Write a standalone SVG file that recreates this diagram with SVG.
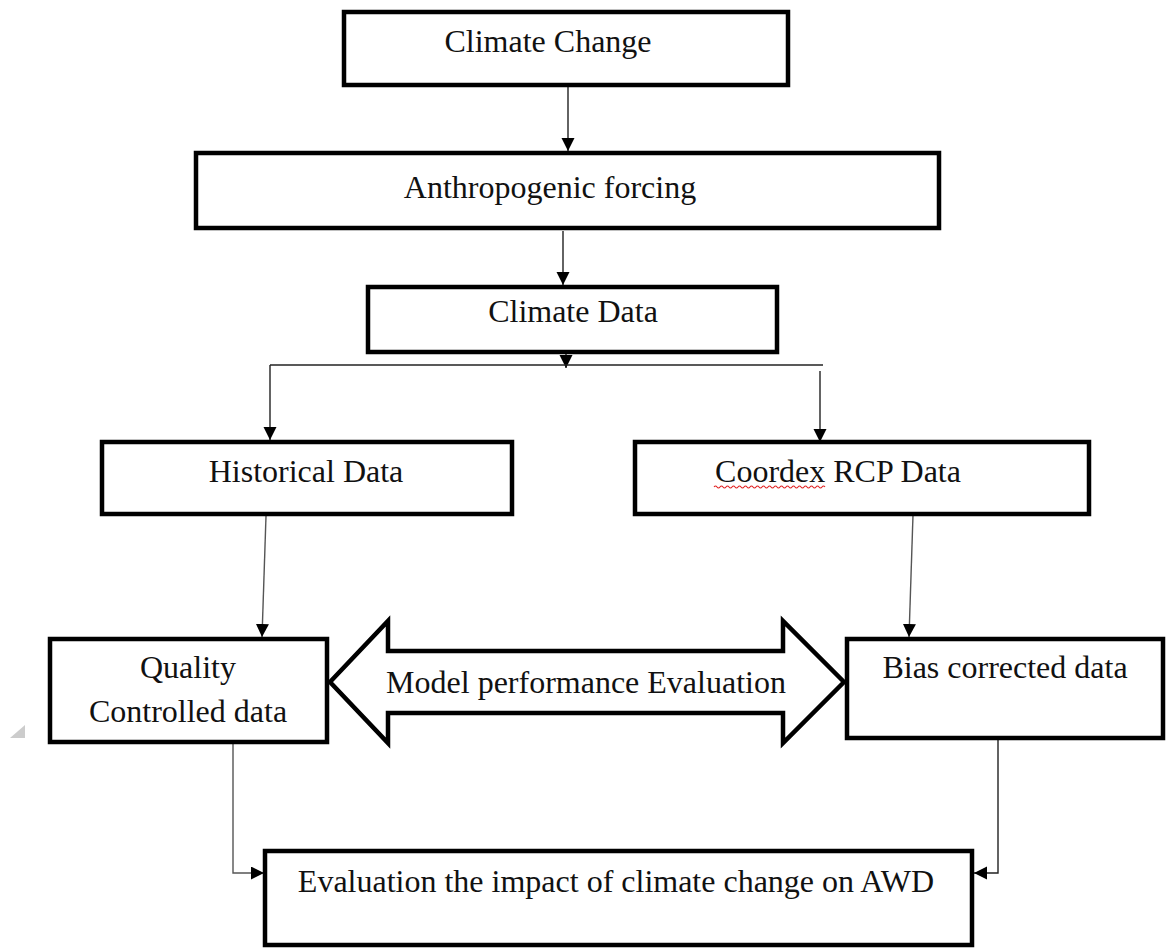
<svg xmlns="http://www.w3.org/2000/svg" width="1167" height="950" viewBox="0 0 1167 950">
<style>
.box{fill:#fff;stroke:#000;stroke-width:4.5}
.t{font-family:"Liberation Serif","Times New Roman",serif;font-size:32px;fill:#111;text-anchor:middle}
.c{fill:none;stroke:#222;stroke-width:1.4}
.g{fill:none;stroke:#555;stroke-width:1.4}
</style>
<defs>
<marker id="ah" markerUnits="userSpaceOnUse" markerWidth="14" markerHeight="16" refX="13" refY="6.5" orient="auto">
<path d="M0,0 L13,6.5 L0,13 Z" fill="#000"/>
</marker>
</defs>
<rect x="0" y="0" width="1167" height="950" fill="#fff"/>
<g id="connectors">
<line class="c" x1="568" y1="86" x2="568" y2="151" marker-end="url(#ah)"/>
<line class="c" x1="563" y1="231" x2="563" y2="285" marker-end="url(#ah)"/>
<line class="c" x1="566" y1="354" x2="566" y2="368" marker-end="url(#ah)"/>
<line class="c" x1="270" y1="365" x2="823" y2="365"/>
<line class="c" x1="270" y1="365" x2="270" y2="440" marker-end="url(#ah)"/>
<line class="c" x1="820" y1="371" x2="820" y2="442" marker-end="url(#ah)"/>
<line class="g" x1="266" y1="516" x2="262" y2="637" marker-end="url(#ah)"/>
<line class="g" x1="913" y1="515" x2="909" y2="637" marker-end="url(#ah)"/>
<polyline class="g" points="233,743 233,873 264,873" marker-end="url(#ah)"/>
<polyline class="c" points="998,740 998,873 974,873" marker-end="url(#ah)"/>
</g>
<g id="climate-change">
<rect class="box" x="344" y="12" width="444" height="73"/>
<text class="t" x="548" y="52">Climate Change</text>
</g>
<g id="anthropogenic-forcing">
<rect class="box" x="196" y="153" width="743" height="75"/>
<text class="t" x="550" y="198">Anthropogenic forcing</text>
</g>
<g id="climate-data">
<rect class="box" x="368" y="287" width="409" height="65"/>
<text class="t" x="573" y="322">Climate Data</text>
</g>
<g id="historical-data">
<rect class="box" x="102" y="442" width="410" height="72"/>
<text class="t" x="306" y="482">Historical Data</text>
</g>
<g id="coordex-rcp-data">
<rect class="box" x="635" y="442" width="454" height="72"/>
<text class="t" x="838" y="482">Coordex RCP Data</text>
<path d="M714,487 q1.5,-2 3,0 t3,0 t3,0 t3,0 t3,0 t3,0 t3,0 t3,0 t3,0 t3,0 t3,0 t3,0 t3,0 t3,0 t3,0 t3,0 t3,0 t3,0 t3,0 t3,0 t3,0 t3,0 t3,0 t3,0 t3,0 t3,0 t3,0 t3,0 t3,0 t3,0 t3,0 t3,0 t3,0 t3,0 t3,0 t3,0 t3,0" fill="none" stroke="#e02020" stroke-width="1.1"/>
</g>
<g id="quality-controlled-data">
<rect class="box" x="50" y="639" width="277" height="103"/>
<text class="t" x="188" y="678">Quality</text>
<text class="t" x="188" y="722">Controlled data</text>
</g>
<g id="model-performance-evaluation">
<polygon class="box" points="330,682 388,621 388,651 783,651 783,621 844,682 783,743 783,713 388,713 388,743"/>
<text class="t" x="586" y="693">Model performance Evaluation</text>
</g>
<g id="bias-corrected-data">
<rect class="box" x="847" y="639" width="316" height="99"/>
<text class="t" x="1005" y="678">Bias corrected data</text>
</g>
<g id="evaluation-impact">
<rect class="box" x="265" y="851" width="707" height="94"/>
<text class="t" x="616" y="892">Evaluation the impact of climate change on AWD</text>
</g>
<polygon points="10,738 25,738 25,725" fill="#ccc"/>
</svg>
